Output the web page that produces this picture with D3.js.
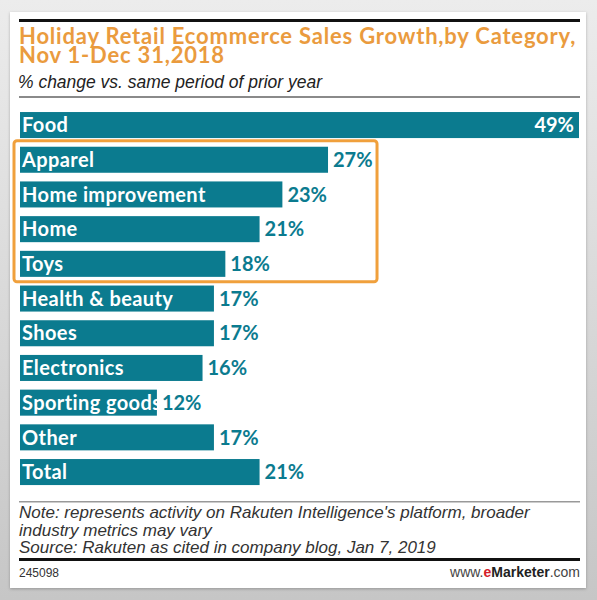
<!DOCTYPE html>
<html lang="en">
  <head>
    <meta charset="UTF-8" />
    <title>Holiday Retail Ecommerce Sales Growth</title>
    <style>
      body { margin: 0; }
      #viz svg { display: block; }
    </style>
  </head>
  <body>
    <div id="viz"></div>
    <script src="https://cdnjs.cloudflare.com/ajax/libs/d3/7.8.5/d3.min.js"></script>
    <script>
      // data
      const categories = ["Food", "Apparel", "Home improvement", "Home", "Toys",
        "Health & beauty", "Shoes", "Electronics", "Sporting goods", "Other", "Total"];
      const growth = [49, 27, 23, 21, 18, 17, 17, 16, 12, 17, 21];
      const highlighted = ["Apparel", "Home improvement", "Home", "Toys"];

      const titleLines = ["Holiday Retail Ecommerce Sales Growth,by Category,", "Nov 1-Dec 31,2018"];
      const subtitle = "% change vs. same period of prior year";
      const noteLines = [
        "Note: represents activity on Rakuten Intelligence's platform, broader",
        "industry metrics may vary",
        "Source: Rakuten as cited in company blog, Jan 7, 2019"
      ];
      const chartId = "245098";

      const data = categories.map((c, i) => ({ cat: c, val: growth[i] }));

      let width = 597,
          height = 600,
          teal = "#0b7b8f",
          orange = "#f0a03c",
          labelFont = "Lato, 'Noto Sans', sans-serif",
          narrowFont = "'Liberation Sans', Arial, sans-serif";

      let svg = d3.select("#viz")
        .append("svg")
        .attr("width", width)
        .attr("height", height);

      let defs = svg.append("defs");
      let bg = defs.append("linearGradient")
        .attr("id", "bg")
        .attr("x1", 0).attr("y1", 0).attr("x2", 0).attr("y2", 1);
      bg.append("stop").attr("offset", "0%").attr("stop-color", "#ececec");
      bg.append("stop").attr("offset", "100%").attr("stop-color", "#c6c6c6");

      let shadow = defs.append("filter").attr("id", "shadow")
        .attr("x", "-5%").attr("y", "-5%").attr("width", "110%").attr("height", "110%");
      shadow.append("feDropShadow")
        .attr("dx", 0).attr("dy", 1).attr("stdDeviation", 1.5)
        .attr("flood-color", "#000").attr("flood-opacity", 0.25);

      svg.append("rect")
        .attr("width", width).attr("height", height)
        .attr("fill", "url(#bg)");

      // white card
      svg.append("rect")
        .attr("x", 10).attr("y", 12)
        .attr("width", 576).attr("height", 576)
        .attr("fill", "#fff")
        .attr("filter", "url(#shadow)");

      // header
      svg.append("rect")
        .attr("x", 19).attr("y", 19)
        .attr("width", 561).attr("height", 3)
        .attr("fill", "#111");

      svg.append("g")
        .selectAll("text")
        .data(titleLines)
        .join("text")
        .attr("x", 19)
        .attr("y", (d, i) => 44 + i * 19)
        .attr("fill", "#ea9b3e")
        .style("font-family", labelFont)
        .style("font-weight", 700)
        .style("font-size", "22px")
        .style("letter-spacing", "0.8px")
        .text(d => d);

      // narrow italic subtitle, squeezed to the reference width
      svg.append("text")
        .attr("x", 18)
        .attr("y", 88)
        .attr("fill", "#222")
        .attr("textLength", 304)
        .attr("lengthAdjust", "spacingAndGlyphs")
        .style("font-family", narrowFont)
        .style("font-style", "italic")
        .style("font-size", "19px")
        .text(subtitle);

      svg.append("rect")
        .attr("x", 19).attr("y", 96)
        .attr("width", 561).attr("height", 2)
        .attr("fill", "#8a8a8a");

      // scales
      let x = d3.scaleLinear()
        .domain([0, d3.max(growth)])
        .range([20, 579]);

      let y = d3.scaleBand()
        .domain(categories)
        .range([107.7, 489.4])
        .paddingInner(0.25)
        .paddingOuter(0.125);

      // highlight box around the four categories
      let hiTop = y(highlighted[0]) - 6,
          hiBottom = y(highlighted[highlighted.length - 1]) + y.bandwidth() + 5;
      svg.append("rect")
        .attr("x", x(0) - 6)
        .attr("y", hiTop)
        .attr("width", x(27) - x(0) + 55)
        .attr("height", hiBottom - hiTop)
        .attr("rx", 3)
        .attr("fill", "none")
        .attr("stroke", orange)
        .attr("stroke-width", 3);

      let bar = svg.append("g")
        .selectAll(".bar-group")
        .data(data)
        .join("g")
        .attr("class", "bar-group");

      bar.append("rect")
        .attr("x", x(0))
        .attr("y", d => y(d.cat))
        .attr("width", d => x(d.val) - x(0))
        .attr("height", y.bandwidth())
        .attr("fill", teal);

      bar.append("text")
        .attr("x", x(0) + 2)
        .attr("y", d => y(d.cat) + y.bandwidth() / 2)
        .attr("dy", "0.36em")
        .attr("fill", "#fff")
        .style("font-family", labelFont)
        .style("font-weight", 700)
        .style("font-size", "20px")
        .style("letter-spacing", "0.4px")
        .text(d => d.cat);

      // value labels: inside the longest bar, outside the others
      let maxVal = d3.max(growth);
      bar.append("text")
        .attr("x", d => d.val === maxVal ? x(d.val) - 5 : x(d.val) + 5)
        .attr("y", d => y(d.cat) + y.bandwidth() / 2)
        .attr("dy", "0.36em")
        .attr("text-anchor", d => d.val === maxVal ? "end" : "start")
        .attr("fill", d => d.val === maxVal ? "#fff" : teal)
        .style("font-family", labelFont)
        .style("font-weight", 700)
        .style("font-size", "20px")
        .text(d => d.val + "%");

      // notes
      svg.append("rect")
        .attr("x", 19).attr("y", 501)
        .attr("width", 561).attr("height", 1.5)
        .attr("fill", "#999");

      svg.append("g")
        .selectAll("text")
        .data(noteLines)
        .join("text")
        .attr("x", 19)
        .attr("y", (d, i) => 518 + i * 17.5)
        .attr("fill", "#333")
        .style("font-family", narrowFont)
        .style("font-style", "italic")
        .style("font-size", "17px")
        .text(d => d);

      svg.append("rect")
        .attr("x", 19).attr("y", 558)
        .attr("width", 561).attr("height", 3)
        .attr("fill", "#111");

      svg.append("text")
        .attr("x", 19)
        .attr("y", 577)
        .attr("fill", "#333")
        .style("font-family", narrowFont)
        .style("font-size", "12px")
        .text(chartId);

      let site = svg.append("text")
        .attr("x", 580)
        .attr("y", 577)
        .attr("text-anchor", "end")
        .attr("fill", "#444")
        .style("font-family", "'Liberation Sans', Arial, sans-serif")
        .style("font-size", "14px");
      site.append("tspan").text("www.");
      site.append("tspan").attr("fill", "#d4202a").style("font-weight", 700).text("e");
      site.append("tspan").attr("fill", "#222").style("font-weight", 700).text("Marketer");
      site.append("tspan").text(".com");
    </script>
  </body>
</html>
